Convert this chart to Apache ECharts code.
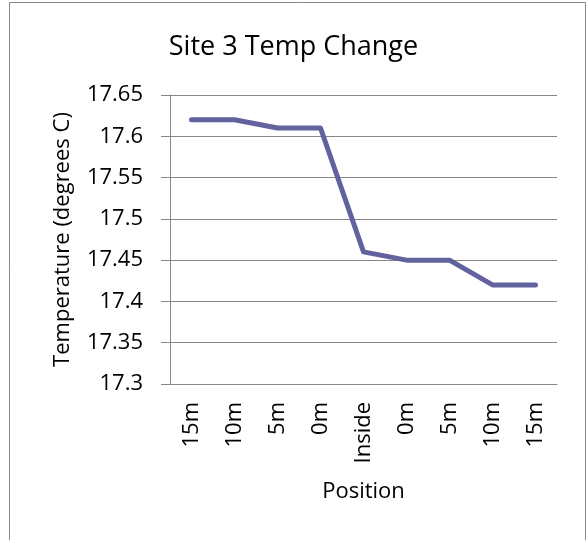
<!DOCTYPE html>
<html>
<head>
<meta charset="utf-8">
<script src="https://cdn.jsdelivr.net/npm/echarts@6/dist/echarts.min.js"></script>
<style>
html, body { margin: 0; padding: 0; background: #fff; }
#js-temp { width: 587px; height: 540px; }
</style>
</head>
<body>
<div id="js-temp"></div>
<script>
var positions = ['15m', '10m', '5m', '0m', 'Inside', '0m', '5m', '10m', '15m'];
var temps = [17.62, 17.62, 17.61, 17.61, 17.46, 17.45, 17.45, 17.42, 17.42];
var yMin = 17.3, yMax = 17.65, yStep = 0.05;

function initTempChart(){
	var tempChart = echarts.init(document.getElementById('js-temp'));
	var font = 'Open Sans';
	var option = {
		backgroundColor: '#fff',
		animation: false,
		title: {
			text: 'Site 3 Temp Change',
			left: 'center',
			top: 29,
			textStyle: { fontFamily: font, fontSize: 27, fontWeight: 'normal', color: '#000' }
		},
		graphic: [{
			type: 'rect',
			shape: { x: 9.5, y: 2.5, width: 576, height: 600 },
			style: { fill: 'none', stroke: '#868686', lineWidth: 1 },
			silent: true
		}],
		grid: { left: 170, right: 30, top: 95, bottom: 156, containLabel: false },
		xAxis: {
			type: 'category',
			data: positions,
			boundaryGap: true,
			name: 'Position',
			nameLocation: 'middle',
			nameGap: 97,
			nameTextStyle: { fontFamily: font, fontSize: 22, color: '#000' },
			axisLine: { lineStyle: { color: '#868686', width: 1 } },
			axisTick: { show: false },
			axisLabel: { rotate: 90, margin: 18, interval: 0, fontFamily: font, fontSize: 22, color: '#000' }
		},
		yAxis: {
			type: 'value',
			min: yMin,
			max: yMax,
			interval: yStep,
			name: 'Temperature (degrees C)',
			nameLocation: 'middle',
			nameGap: 96,
			nameTextStyle: { fontFamily: font, fontSize: 22, color: '#000' },
			axisLine: { show: true, lineStyle: { color: '#868686', width: 1 } },
			axisTick: { show: true, length: 9, lineStyle: { color: '#868686' } },
			axisLabel: { margin: 27, fontFamily: font, fontSize: 22, color: '#000' },
			splitLine: { lineStyle: { color: '#868686', width: 1 } }
		},
		series: [{
			name: 'Site 3',
			type: 'line',
			data: temps,
			symbol: 'none',
			lineStyle: { color: '#62629e', width: 5, cap: 'round', join: 'round' }
		}]
	};
	tempChart.setOption(option);
}

initTempChart();
</script>
</body>
</html>
